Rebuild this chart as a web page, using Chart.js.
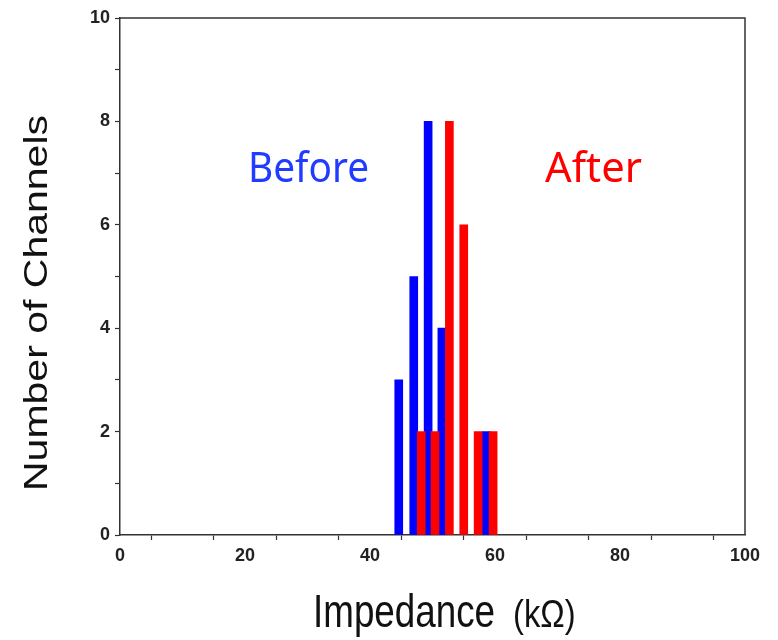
<!DOCTYPE html>
<html>
<head>
<meta charset="utf-8">
<title>Impedance histogram</title>
<script src="https://cdn.jsdelivr.net/npm/chart.js@4.4.1/dist/chart.umd.min.js"></script>
<style>
  html, body { margin: 0; padding: 0; background: #fff; }
  #wrap { width: 778px; height: 640px; }
</style>
</head>
<body>
<div id="wrap"><canvas id="impChart" width="778" height="640"></canvas></div>
<script>
  "use strict";

  // bar centres (kOhm) and channel counts
  const beforeImpedance = [44.6, 47.0, 49.3, 51.5, 58.6];
  const beforeCounts = [3, 5, 8, 4, 2];
  const afterImpedance = [48.2, 50.4, 52.7, 55.0, 57.3, 59.7];
  const afterCounts = [2, 2, 8, 6, 2, 2];

  const xLabelTicks = [0, 20, 40, 60, 80, 100];
  const yLabelTicks = [0, 2, 4, 6, 8, 10];

  const toPoints = (xs, ys) => xs.map((x, i) => ({ x: x, y: ys[i] }));

  // draw text squeezed horizontally like the source image
  const squeezed = (ctx, text, x, y, font, sx, color, rot) => {
    ctx.save();
    ctx.translate(x, y);
    ctx.scale(sx, 1);
    if (rot) ctx.rotate(rot);
    ctx.font = font;
    ctx.fillStyle = color;
    ctx.fillText(text, 0, 0);
    ctx.restore();
  };

  const fitted = (ctx, text, left, base, font, width, color) => {
    ctx.save();
    ctx.font = font;
    const w = ctx.measureText(text).width;
    ctx.restore();
    squeezed(ctx, text, left, base, font, width / w, color);
  };

  const decorPlugin = {
    id: "decor",
    afterDraw(chart) {
      const ctx = chart.ctx;
      const a = chart.chartArea;
      // frame (top and right sides)
      ctx.save();
      ctx.strokeStyle = "#333";
      ctx.lineWidth = 1.5;
      ctx.beginPath();
      ctx.moveTo(a.left, a.top);
      ctx.lineTo(a.right, a.top);
      ctx.lineTo(a.right, a.bottom);
      ctx.stroke();
      ctx.restore();

      ctx.save();
      ctx.textAlign = "left";
      ctx.textBaseline = "alphabetic";
      // x axis title
      squeezed(ctx, "Impedance", 313, 627, "46px 'Liberation Sans', Arial, sans-serif", 0.8, "#111");
      squeezed(ctx, "(k\u03A9)", 513, 627, "38px 'Liberation Sans', Arial, sans-serif", 0.86, "#111");
      // annotations
      fitted(ctx, "Before", 248, 182, "41px 'Noto Sans', sans-serif", 121, "#1f3cff");
      fitted(ctx, "After", 545, 182, "41px 'Noto Sans', sans-serif", 97, "#ff0000");
      ctx.restore();

      // y axis title
      ctx.save();
      ctx.textAlign = "center";
      ctx.textBaseline = "alphabetic";
      squeezed(ctx, "Number of Channels", 47, 303, "41px 'Liberation Sans', Arial, sans-serif", 0.8, "#111", -Math.PI / 2);
      ctx.restore();
    },
  };

  const tickFont = { family: "'Liberation Sans', Arial, sans-serif", size: 18, weight: "bold" };

  new Chart(document.getElementById("impChart"), {
    type: "bar",
    data: {
      datasets: [
        {
          label: "Before",
          data: toPoints(beforeImpedance, beforeCounts),
          backgroundColor: "#0000ff",
          barThickness: 8,
          grouped: false,
          order: 2,
        },
        {
          label: "After",
          data: toPoints(afterImpedance, afterCounts),
          backgroundColor: "#ff0000",
          barThickness: 8,
          grouped: false,
          order: 1,
        },
      ],
    },
    options: {
      responsive: false,
      animation: false,
      layout: { padding: { top: 18, right: 33, bottom: 0, left: 0 } },
      plugins: { legend: { display: false }, tooltip: { enabled: false } },
      scales: {
        x: {
          type: "linear",
          min: 0,
          max: 100,
          offset: false,
          grid: {
            display: true,
            drawOnChartArea: false,
            drawTicks: true,
            tickLength: 5,
            tickColor: "#333",
            tickWidth: 1.2,
          },
          border: { display: true, color: "#333", width: 1.5 },
          ticks: {
            stepSize: 10,
            autoSkip: false,
            maxRotation: 0,
            padding: 5,
            color: "#222",
            font: tickFont,
            callback: (v) => (xLabelTicks.includes(v) ? String(v) : ""),
          },
          afterFit: (s) => { s.height = 105; },
        },
        y: {
          min: 0,
          max: 10,
          grid: {
            display: true,
            drawOnChartArea: false,
            drawTicks: true,
            tickLength: 5,
            tickColor: "#333",
            tickWidth: 1.2,
          },
          border: { display: true, color: "#333", width: 1.5 },
          ticks: {
            stepSize: 1,
            autoSkip: false,
            padding: 5,
            color: "#222",
            font: tickFont,
            callback: (v) => (yLabelTicks.includes(v) ? String(v) : ""),
          },
          afterFit: (s) => { s.width = 120; },
        },
      },
    },
    plugins: [decorPlugin],
  });
</script>
</body>
</html>
